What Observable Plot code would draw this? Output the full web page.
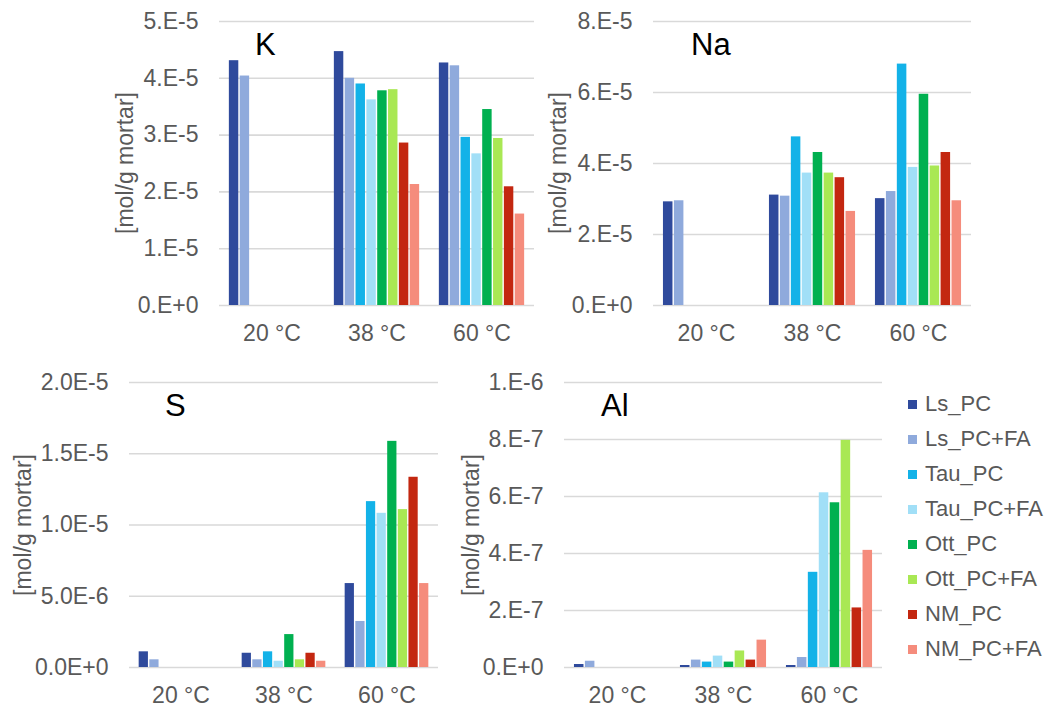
<!DOCTYPE html>
<html>
<head>
<meta charset="utf-8">
<script src="https://cdn.jsdelivr.net/npm/d3@7"></script>
<script src="https://cdn.jsdelivr.net/npm/@observablehq/plot@0.6"></script>
<style>
  html, body { margin: 0; padding: 0; background: #fff; }
  #chart { position: relative; width: 1056px; height: 709px; overflow: hidden; font-family: "Liberation Sans", Arial, sans-serif; }
  .panel { position: absolute; }
  .title { position: absolute; font-size: 31px; line-height: 31px; color: #000; }
  .ylab { position: absolute; font-size: 23px; color: #595959; white-space: nowrap; transform: translate(-50%, -50%) rotate(-90deg); }
  .leg { position: absolute; font-size: 22px; color: #595959; white-space: nowrap; line-height: 24px; }
  .leg span.sw { display: inline-block; width: 9px; height: 9px; margin-right: 8px; vertical-align: middle; position: relative; top: -1px; }
</style>
</head>
<body>
<div id="chart"></div>
<script>
// ---- data ----
const temps = ["20 °C", "38 °C", "60 °C"];
const series = ["Ls_PC", "Ls_PC+FA", "Tau_PC", "Tau_PC+FA", "Ott_PC", "Ott_PC+FA", "NM_PC", "NM_PC+FA"];
const colors = ["#2F4A9C", "#8FAADC", "#13B2E8", "#A1DFF7", "#00B050", "#A9E854", "#C32710", "#F58C7C"];

// values per temperature, in series order (null = no bar)
const K_20 = [4.31e-5, 4.04e-5, null, null, null, null, null, null];
const K_38 = [4.47e-5, 4.00e-5, 3.90e-5, 3.62e-5, 3.78e-5, 3.80e-5, 2.86e-5, 2.13e-5];
const K_60 = [4.27e-5, 4.22e-5, 2.96e-5, 2.67e-5, 3.45e-5, 2.94e-5, 2.09e-5, 1.61e-5];

const Na_20 = [2.92e-5, 2.95e-5, null, null, null, null, null, null];
const Na_38 = [3.11e-5, 3.08e-5, 4.75e-5, 3.73e-5, 4.31e-5, 3.73e-5, 3.60e-5, 2.65e-5];
const Na_60 = [3.01e-5, 3.21e-5, 6.80e-5, 3.89e-5, 5.95e-5, 3.93e-5, 4.31e-5, 2.95e-5];

const S_20 = [1.10e-6, 0.54e-6, null, null, null, null, null, null];
const S_38 = [1.00e-6, 0.54e-6, 1.10e-6, 0.44e-6, 2.31e-6, 0.54e-6, 1.00e-6, 0.44e-6];
const S_60 = [5.89e-6, 3.23e-6, 11.64e-6, 10.82e-6, 15.87e-6, 11.08e-6, 13.35e-6, 5.89e-6];

const Al_20 = [1.05e-8, 2.2e-8, null, null, null, null, null, null];
const Al_38 = [0.7e-8, 2.6e-8, 1.9e-8, 4.0e-8, 1.9e-8, 5.8e-8, 2.6e-8, 9.6e-8];
const Al_60 = [0.7e-8, 3.5e-8, 33.4e-8, 61.3e-8, 57.8e-8, 79.7e-8, 20.9e-8, 41.1e-8];

const K_ticks = [0, 1e-5, 2e-5, 3e-5, 4e-5, 5e-5];
const Na_ticks = [0, 2e-5, 4e-5, 6e-5, 8e-5];
const S_ticks = [0, 5e-6, 1e-5, 1.5e-5, 2e-5];
const Al_ticks = [0, 2e-7, 4e-7, 6e-7, 8e-7, 1e-6];

const yLabel = "[mol/g mortar]";

// Excel-like scientific format: "0.E+0" (dec=0) or "0.0E+0" (dec=1)
function sci(dec) {
  return v => {
    let s = v.toExponential(dec);
    let [m, e] = s.split("e");
    if (dec === 0) m = m + ".";
    return m + "E" + e;
  };
}

function rows(vals20, vals38, vals60) {
  const out = [];
  [vals20, vals38, vals60].forEach((arr, ti) => {
    arr.forEach((v, si) => {
      if (v != null) out.push({temp: temps[ti], series: series[si], value: v});
    });
  });
  return out;
}

const chart = document.getElementById("chart");

function panel({name, data, ticks, dec, plotLeft, plotWidth, top, marginBottom, plotHeight, titleDx, ylabX}) {
  const ML = 116, MR = 4, MT = 21;
  const p = Plot.plot({
    width: ML + plotWidth + MR,
    height: MT + plotHeight + marginBottom,
    marginLeft: ML, marginRight: MR, marginTop: MT, marginBottom: marginBottom,
    style: {fontSize: "23px", fontFamily: "'Liberation Sans', Arial, sans-serif", color: "#595959", background: "white", overflow: "visible"},
    fx: {domain: temps, padding: 0, label: null, axis: "bottom", tickSize: 0, tickPadding: 19},
    x: {domain: series, paddingInner: 0.13, paddingOuter: 0.91, axis: null, round: false},
    y: {domain: [ticks[0], ticks[ticks.length - 1]], ticks: ticks, tickFormat: sci(dec), tickSize: 0, tickPadding: 21, label: null},
    color: {domain: series, range: colors},
    marks: [
      Plot.ruleY(ticks, {stroke: "#D9D9D9", strokeWidth: 1.6}),
      Plot.barY(data, {fx: "temp", x: "series", y: "value", fill: "series"})
    ]
  });
  p.classList.add("panel");
  p.style.left = (plotLeft - ML) + "px";
  p.style.top = (top - MT) + "px";
  chart.appendChild(p);

  const t = document.createElement("div");
  t.className = "title";
  t.textContent = name;
  t.style.left = (plotLeft + titleDx) + "px";
  t.style.top = (top + 8) + "px";
  chart.appendChild(t);

  const yl = document.createElement("div");
  yl.className = "ylab";
  yl.textContent = yLabel;
  yl.style.left = ylabX + "px";
  yl.style.top = (top + plotHeight / 2) + "px";
  chart.appendChild(yl);
}

panel({name: "K", data: rows(K_20, K_38, K_60), ticks: K_ticks, dec: 0,
  plotLeft: 218, plotWidth: 317, top: 21, plotHeight: 284, marginBottom: 45, titleDx: 37, ylabX: 125});
panel({name: "Na", data: rows(Na_20, Na_38, Na_60), ticks: Na_ticks, dec: 0,
  plotLeft: 652, plotWidth: 320, top: 21, plotHeight: 284, marginBottom: 45, titleDx: 39, ylabX: 558});
panel({name: "S", data: rows(S_20, S_38, S_60), ticks: S_ticks, dec: 1,
  plotLeft: 129, plotWidth: 309, top: 382, plotHeight: 285, marginBottom: 42, titleDx: 36, ylabX: 23});
panel({name: "Al", data: rows(Al_20, Al_38, Al_60), ticks: Al_ticks, dec: 0,
  plotLeft: 563, plotWidth: 320, top: 382, plotHeight: 285, marginBottom: 42, titleDx: 38, ylabX: 471});

// legend
series.forEach((s, i) => {
  const d = document.createElement("div");
  d.className = "leg";
  d.style.left = "908px";
  d.style.top = (404 + 35 * i - 12) + "px";
  d.innerHTML = `<span class="sw" style="background:${colors[i]}"></span>`;
  d.appendChild(document.createTextNode(s));
  chart.appendChild(d);
});
</script>
</body>
</html>
